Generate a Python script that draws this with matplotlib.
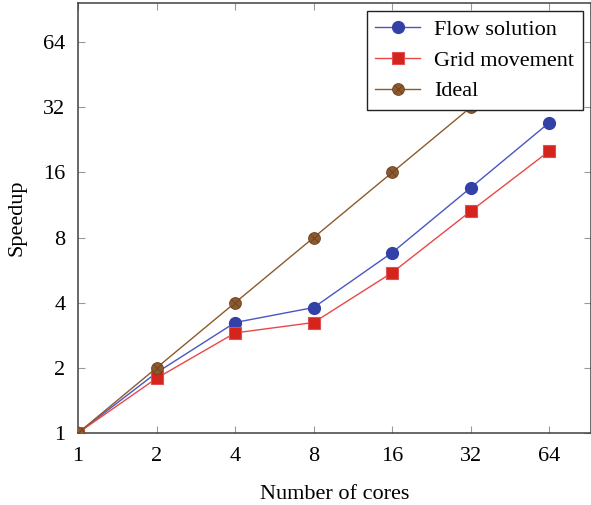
import matplotlib
matplotlib.use('Agg')

import numpy as np
import matplotlib.pyplot as plt
from matplotlib.path import Path

cores = [1, 2, 4, 8, 16, 32, 64]
flow_solution = [1, 1.90, 3.24, 3.80, 6.82, 13.6, 27.2]
grid_movement = [1, 1.79, 2.90, 3.24, 5.51, 10.6, 20.1]
ideal = [1, 2, 4, 8, 16, 32, 64]
tick_values = [1, 2, 4, 8, 16, 32, 64]

plt.rcParams['font.family'] = ['Liberation Serif', 'DejaVu Serif']

# circle with a cross inside (pgfplots "otimes")
t = np.linspace(0, 2 * np.pi, 40)
c = 0.70710678
verts = list(zip(np.cos(t), np.sin(t))) + [(-c, -c), (c, c), (-c, c), (c, -c)]
codes = [Path.MOVETO] + [Path.LINETO] * 38 + [Path.CLOSEPOLY] + [Path.MOVETO, Path.LINETO, Path.MOVETO, Path.LINETO]
otimes = Path(verts, codes)

fig = plt.figure(figsize=(5.91, 5.05), dpi=100)
ax = fig.add_axes([78 / 591, 72 / 505, 513 / 591, 430 / 505])

ax.plot(cores, flow_solution, color='#4a55c4', lw=1.0, marker='o', ms=8.5,
        mfc='#3340a8', mec='#3340a8', label='Flow solution', zorder=3)
ax.plot(cores, grid_movement, color='#e84848', lw=1.0, marker='s', ms=8,
        mfc='#d4241c', mec='#e05050', mew=0.8, label='Grid movement', zorder=3)
ax.plot(cores, ideal, color='#8c5a2c', lw=1.0, marker=otimes, ms=8.5,
        mfc='#8c5a2c', mec='#6a4020', mew=0.6, label='Ideal', zorder=3)

ax.set_xscale('log', base=2)
ax.set_yscale('log', base=2)
ax.set_xlim(1, 2 ** 6.53)
ax.set_ylim(1, 2 ** 6.6)
ax.set_xticks(tick_values)
ax.set_xticklabels([str(v) for v in tick_values])
ax.set_yticks(tick_values)
ax.set_yticklabels([str(v) for v in tick_values])
ax.minorticks_off()

ax.tick_params(direction='in', length=5, width=0.8, color='#999999',
               top=True, right=True, labelsize=16)
ax.tick_params(axis='x', pad=10)
ax.tick_params(axis='y', pad=9)
for s in ax.spines.values():
    s.set_color('#404040')
    s.set_linewidth(1.1)

ax.set_xlabel('Number of cores', fontsize=16, labelpad=14)
ax.set_ylabel('Speedup', fontsize=16, labelpad=12)

leg = ax.legend(loc='upper right', fontsize=16, fancybox=False, framealpha=1,
                edgecolor='#222222', borderaxespad=0.35, handlelength=2.0,
                handletextpad=0.65, labelspacing=0.45, borderpad=0.4)
leg.get_frame().set_linewidth(1.0)

fig.savefig('out.png', dpi=100)
plt.close(fig)
